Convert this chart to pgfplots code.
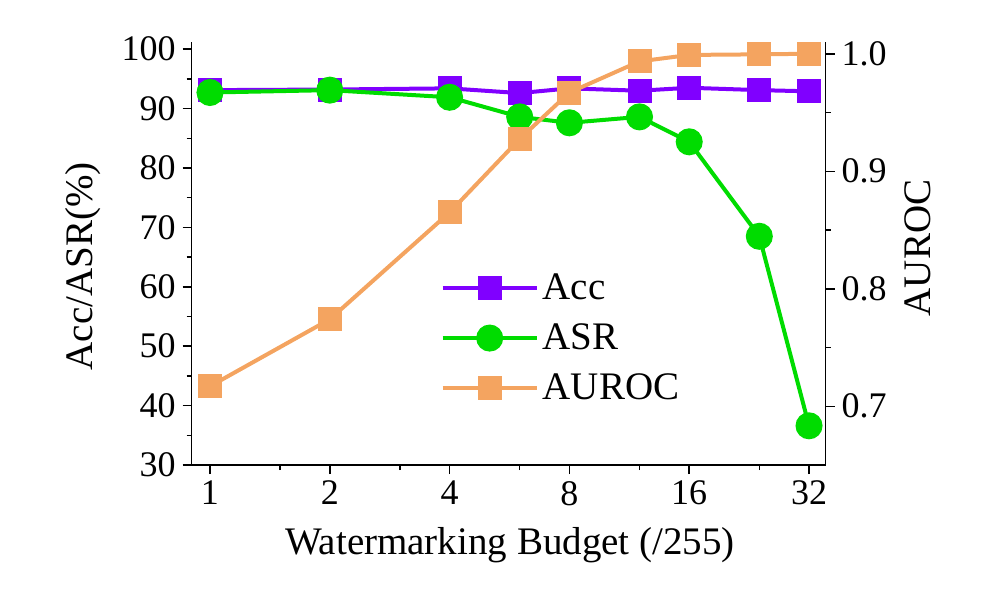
\documentclass[border=0pt]{standalone}
\usepackage{fontspec}
\setmainfont{Liberation Serif}
\usepackage{pgfplots}
\pgfplotsset{compat=1.18}
\definecolor{accc}{RGB}{128,0,255}
\definecolor{asrc}{RGB}{0,220,0}
\definecolor{aurocc}{RGB}{244,164,96}

\begin{document}
\begin{tikzpicture}[x=1pt,y=1pt]
\useasboundingbox (-95.85,-68) rectangle (402.65,232.5);

\begin{axis}[
  at={(0,0)}, anchor=south west,
  scale only axis, width=317pt, height=211.5pt,
  xmode=log, log basis x=2, xmin=0.8996, xmax=35.24,
  clip=false,
  tick align=outside, major tick length=4.5pt, minor tick length=2.5pt,
  every tick/.append style={black, line width=0.75pt},
  axis line style={-, line width=0.75pt},
  tick label style={font=\fontsize{18}{20}\selectfont},
  label style={font=\fontsize{19.5}{22}\selectfont},
  /pgf/number format/assume math mode=true,
  axis x line*=bottom, axis y line*=left,
  xtick={1,2,4,8,16,32}, xticklabels={1,2,4,8,16,32},
  extra x ticks={1.5,3,6,12,24}, extra x tick labels={},
  extra x tick style={major tick length=2.5pt},
  ymin=30, ymax=101.2,
  ytick={30,40,50,60,70,80,90,100},
  minor ytick={35,45,55,65,75,85,95},
  xlabel={Watermarking Budget (/255)},
  ylabel={Acc/ASR(\%)},
  xlabel style={at={(axis description cs:0.502,-0.189)}, anchor=center},
  ylabel style={at={(axis description cs:-0.1715,0.47)}, anchor=center},
]
\addplot[color=accc, line width=2pt, mark=square*, mark size=5pt]
  coordinates {(1,93.1) (2,93.2) (4,93.4) (6,92.6) (8,93.4) (12,93.0) (16,93.5) (24,93.1) (32,92.9)};
\addplot[color=asrc, line width=2pt, mark=*, mark size=5.75pt]
  coordinates {(1,92.7) (2,93.1) (4,91.9) (6,88.6) (8,87.6) (12,88.6) (16,84.4) (24,68.5) (32,36.6)};
\end{axis}

\begin{axis}[
  at={(0,0)}, anchor=south west,
  scale only axis, width=317pt, height=211.5pt,
  xmode=log, log basis x=2, xmin=0.8996, xmax=35.24,
  xtick={1,2,4,8,16,32},
  clip=false,
  tick align=outside, major tick length=4.5pt, minor tick length=2.5pt,
  every tick/.append style={black, line width=0.75pt},
  axis line style={-, line width=0.75pt},
  tick label style={font=\fontsize{18}{20}\selectfont},
  label style={font=\fontsize{19.5}{22}\selectfont},
  /pgf/number format/assume math mode=true,
  axis x line=none, axis y line*=right,
  ymin=0.65, ymax=1.01,
  ytick={0.7,0.8,0.9,1.0},
  minor ytick={0.75,0.85,0.95},
  yticklabel style={/pgf/number format/.cd, fixed, fixed zerofill, precision=1},
  ylabel={AUROC},
  ylabel style={at={(axis description cs:1.1456,0.513)}, anchor=center},
  legend style={at={(axis description cs:0.584,0.30)}, anchor=center,
    draw=none, fill=none, font=\fontsize{19.5}{22}\selectfont,
    row sep=6.5pt},
  legend cell align=left,
  legend image code/.code={%
    \draw[mark repeat=2, mark phase=2, #1]
      plot coordinates {(0pt,0pt) (23.5pt,0pt) (47pt,0pt)};},
]
\addlegendimage{color=accc, line width=2pt, mark=square*, mark size=5pt}
\addlegendentry{Acc}
\addlegendimage{color=asrc, line width=2pt, mark=*, mark size=5.75pt}
\addlegendentry{ASR}
\addplot[color=aurocc, line width=2pt, mark=square*, mark size=5pt]
  coordinates {(1,0.717) (2,0.774) (4,0.865) (6,0.9275) (8,0.967) (12,0.9935) (16,0.999) (24,0.9995) (32,1.0)};
\addlegendentry{AUROC}
\end{axis}
\end{tikzpicture}
\end{document}
